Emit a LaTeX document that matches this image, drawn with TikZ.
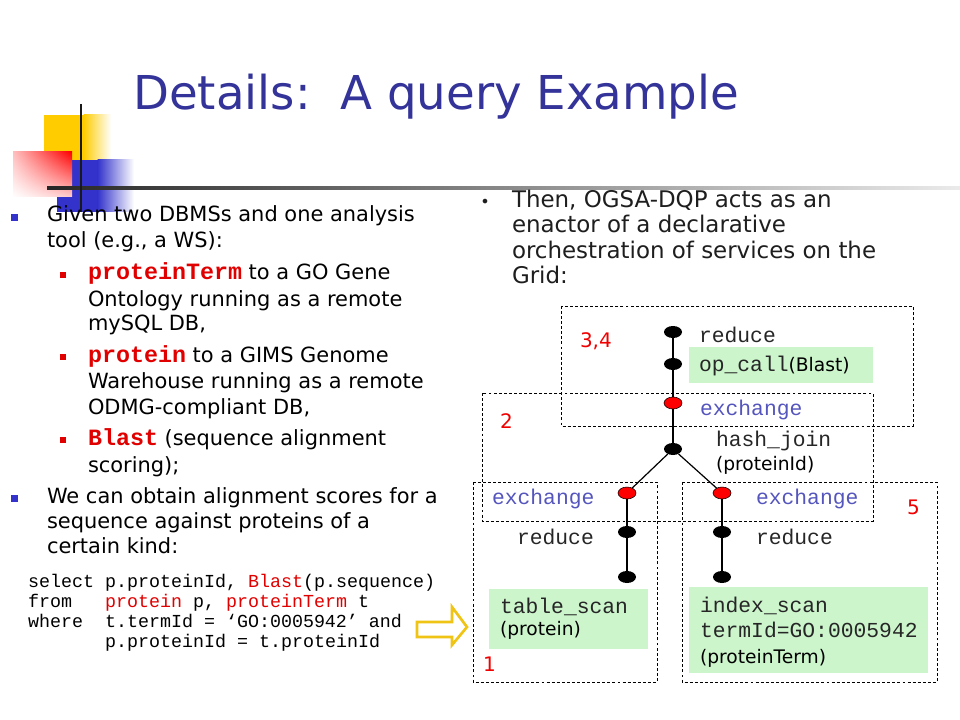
\documentclass[tikz,border=0pt]{standalone}
\usepackage{fontspec}
\setmainfont{DejaVu Sans}
\newfontfamily\monof{Liberation Mono}
\usetikzlibrary{shapes.geometric,shadings}
\definecolor{titleblue}{RGB}{51,51,153}
\definecolor{bulblue}{RGB}{51,51,204}
\definecolor{codered}{RGB}{225,0,0}
\definecolor{numred}{RGB}{240,0,0}
\definecolor{exblue}{RGB}{85,85,190}
\definecolor{lgreen}{RGB}{204,245,204}
\definecolor{decoyellow}{RGB}{255,204,0}
\definecolor{decored}{RGB}{255,0,0}
\definecolor{decoblue}{RGB}{51,51,204}
\definecolor{arrowgold}{RGB}{240,196,20}
\definecolor{dgray}{RGB}{30,30,30}
\newcommand{\bodyf}{\fontsize{15.7}{19}\selectfont}
\newcommand{\redmono}[1]{{\monof\bfseries\fontsize{17.5}{19}\selectfont\color{codered}#1}}
\newcommand{\codef}{\monof\fontsize{13.75}{15}\selectfont}
\newcommand{\diagmono}{\monof\fontsize{16}{18}\selectfont}
\newcommand{\diagsans}{\normalfont\fontsize{14}{16}\selectfont}
\begin{document}
\begin{tikzpicture}[x=0.75pt,y=-0.75pt,
  txt/.style={anchor=base west, inner sep=0pt, outer sep=0pt, font=\bodyf},
  rtxt/.style={anchor=base west, inner sep=0pt, outer sep=0pt, text=dgray, font=\fontsize{17.2}{20}\selectfont},
  codeline/.style={anchor=base west, inner sep=0pt, outer sep=0pt, font=\codef},
  mlab/.style={anchor=base west, inner sep=0pt, outer sep=0pt, text=black!85, font=\diagmono},
  exlab/.style={anchor=base west, inner sep=0pt, outer sep=0pt, text=exblue, font=\diagmono},
  slab/.style={anchor=base west, inner sep=0pt, outer sep=0pt, text=black, font=\diagsans},
  numlab/.style={anchor=base west, inner sep=0pt, outer sep=0pt, text=numred, font=\fontsize{15}{17}\selectfont},
  bigbul/.style={fill=bulblue, minimum size=5.25pt, inner sep=0pt},
  smallbul/.style={fill=codered, minimum size=4.5pt, inner sep=0pt},
  blk/.style={ellipse, fill=black, minimum width=13.5pt, minimum height=9pt, inner sep=0pt},
  rednode/.style={ellipse, fill=red, draw=black, line width=0.4pt, minimum width=13.5pt, minimum height=9pt, inner sep=0pt},
  edge/.style={line width=0.9pt, black},
  dashbox/.style={draw=black, line width=0.6pt, dash pattern=on 2.2pt off 1.6pt},
  greenbox/.style={fill=lgreen}
]
\useasboundingbox (0,0) rectangle (960,720);
\fill[white] (0,0) rectangle (960,720);

% decoration
\fill[decoyellow] (44,115) rectangle (84,160);
\shade[left color=decoyellow, right color=white] (83.5,115) rectangle (111,160);
\fill[decoblue] (57,160) rectangle (98,212);
\shade[left color=decoblue, right color=white] (97.5,160) rectangle (134,212);
\shade[upper right=decored, upper left=decored!25, lower left=white, lower right=decored!20] (13,152) rectangle (72,197);
\shade[left color=black!85, right color=black!8] (47,186.5) rectangle (960,189.5);
\draw[line width=1.6pt, black!90] (81,104) -- (81,212);

% title
\node[anchor=base west, inner sep=0pt, text=titleblue, font=\fontsize{35}{40}\selectfont] (title) at (133,110) {Details:\ \ A query Example};

% left bullets
\node[bigbul] (b1) at (14.5,217.5) {};
\node[txt] (l1) at (47,222) {Given two DBMSs and one analysis};
\node[txt] (l2) at (47,248) {tool (e.g., a WS):};
\node[smallbul] (s1) at (63,275) {};
\node[txt] (l3) at (88,280) {\redmono{proteinTerm} to a GO Gene};
\node[txt] (l4) at (88,306) {Ontology running as a remote};
\node[txt] (l5) at (88,330) {mySQL DB,};
\node[smallbul] (s2) at (63,357) {};
\node[txt] (l6) at (88,362) {\redmono{protein} to a GIMS Genome};
\node[txt] (l7) at (88,388) {Warehouse running as a remote};
\node[txt] (l8) at (88,414) {ODMG-compliant DB,};
\node[smallbul] (s3) at (63,440) {};
\node[txt] (l9) at (88,445) {\redmono{Blast} (sequence alignment};
\node[txt] (l10) at (88,472) {scoring);};
\node[bigbul] (b2) at (14.5,498.5) {};
\node[txt] (l11) at (47,503) {We can obtain alignment scores for a};
\node[txt] (l12) at (47,528) {sequence against proteins of a};
\node[txt] (l13) at (47,553) {certain kind:};

% code
\node[codeline] (c1) at (28,587) {select p.proteinId, {\color{codered}Blast}(p.sequence)};
\node[codeline] (c2) at (28,607) {from\ \ \ {\color{codered}protein} p, {\color{codered}proteinTerm} t};
\node[codeline] (c3) at (28,627) {where\ \ t.termId = ‘GO:0005942’ and};
\node[codeline] (c4) at (28,647) {\phantom{where\ \ }p.proteinId = t.proteinId};

% arrow
\draw[arrowgold, line width=2pt, fill=white, line join=miter]
  (417,622) -- (452,622) -- (452,607) -- (467,627) -- (452,645) -- (452,637) -- (417,637) -- cycle;

% right text
\node[anchor=base west, inner sep=0pt, text=dgray, font=\fontsize{12}{14}\selectfont] (rb) at (480,208) {•};
\node[rtxt] (r1) at (512,208) {Then, OGSA-DQP acts as an};
\node[rtxt] (r2) at (512,233) {enactor of a declarative};
\node[rtxt] (r3) at (512,259) {orchestration of services on the};
\node[rtxt] (r4) at (512,284) {Grid:};

% dashed boxes
\draw[dashbox] (561,306) rectangle (913,426);
\draw[dashbox] (482,393) rectangle (873,521);
\draw[dashbox] (473,482) rectangle (657,682);
\draw[dashbox] (682,482) rectangle (937,682);

% green boxes
\fill[greenbox] (689,347) rectangle (873,383);
\fill[greenbox] (489,589) rectangle (648,649);
\fill[greenbox] (689,587) rectangle (928,673);

% tree nodes
\node[blk] (n1) at (673,332) {};
\node[blk] (n2) at (673,364) {};
\node[rednode] (n3) at (673,403) {};
\node[blk] (n4) at (673,449) {};
\node[rednode] (n5) at (627,493) {};
\node[rednode] (n6) at (722,493) {};
\node[blk] (n7) at (627,532) {};
\node[blk] (n8) at (627,577) {};
\node[blk] (n9) at (722,532) {};
\node[blk] (n10) at (722,577) {};
\draw[edge] (n1) -- (n2);
\draw[edge] (n2) -- (n3);
\draw[edge] (n3) -- (n4);
\draw[edge] (n4) -- (n5);
\draw[edge] (n4) -- (n6);
\draw[edge] (n5) -- (n7);
\draw[edge] (n7) -- (n8);
\draw[edge] (n6) -- (n9);
\draw[edge] (n9) -- (n10);

% labels
\node[mlab] (t1) at (699,342) {reduce};
\node[mlab] (t2) at (699,371) {op\_call{\diagsans\color{black}(Blast)}};
\node[exlab] (t3) at (700,415) {exchange};
\node[mlab] (t4) at (716,446) {hash\_join};
\node[slab] (t5) at (716,470) {(proteinId)};
\node[exlab] (t6) at (492,504) {exchange};
\node[exlab] (t7) at (756,504) {exchange};
\node[mlab] (t8) at (517,544) {reduce};
\node[mlab] (t9) at (756,544) {reduce};
\node[mlab] (t10) at (500,613) {table\_scan};
\node[slab] (t11) at (500,635) {(protein)};
\node[mlab] (t12) at (700,612) {index\_scan};
\node[mlab] (t13) at (700,637) {termId=GO:0005942};
\node[slab] (t14) at (700,663) {(proteinTerm)};
\node[numlab] (k1) at (580,347) {3,4};
\node[numlab] (k2) at (500,428) {2};
\node[numlab] (k3) at (907,514) {5};
\node[numlab] (k4) at (483,671) {1};
\end{tikzpicture}
\end{document}
